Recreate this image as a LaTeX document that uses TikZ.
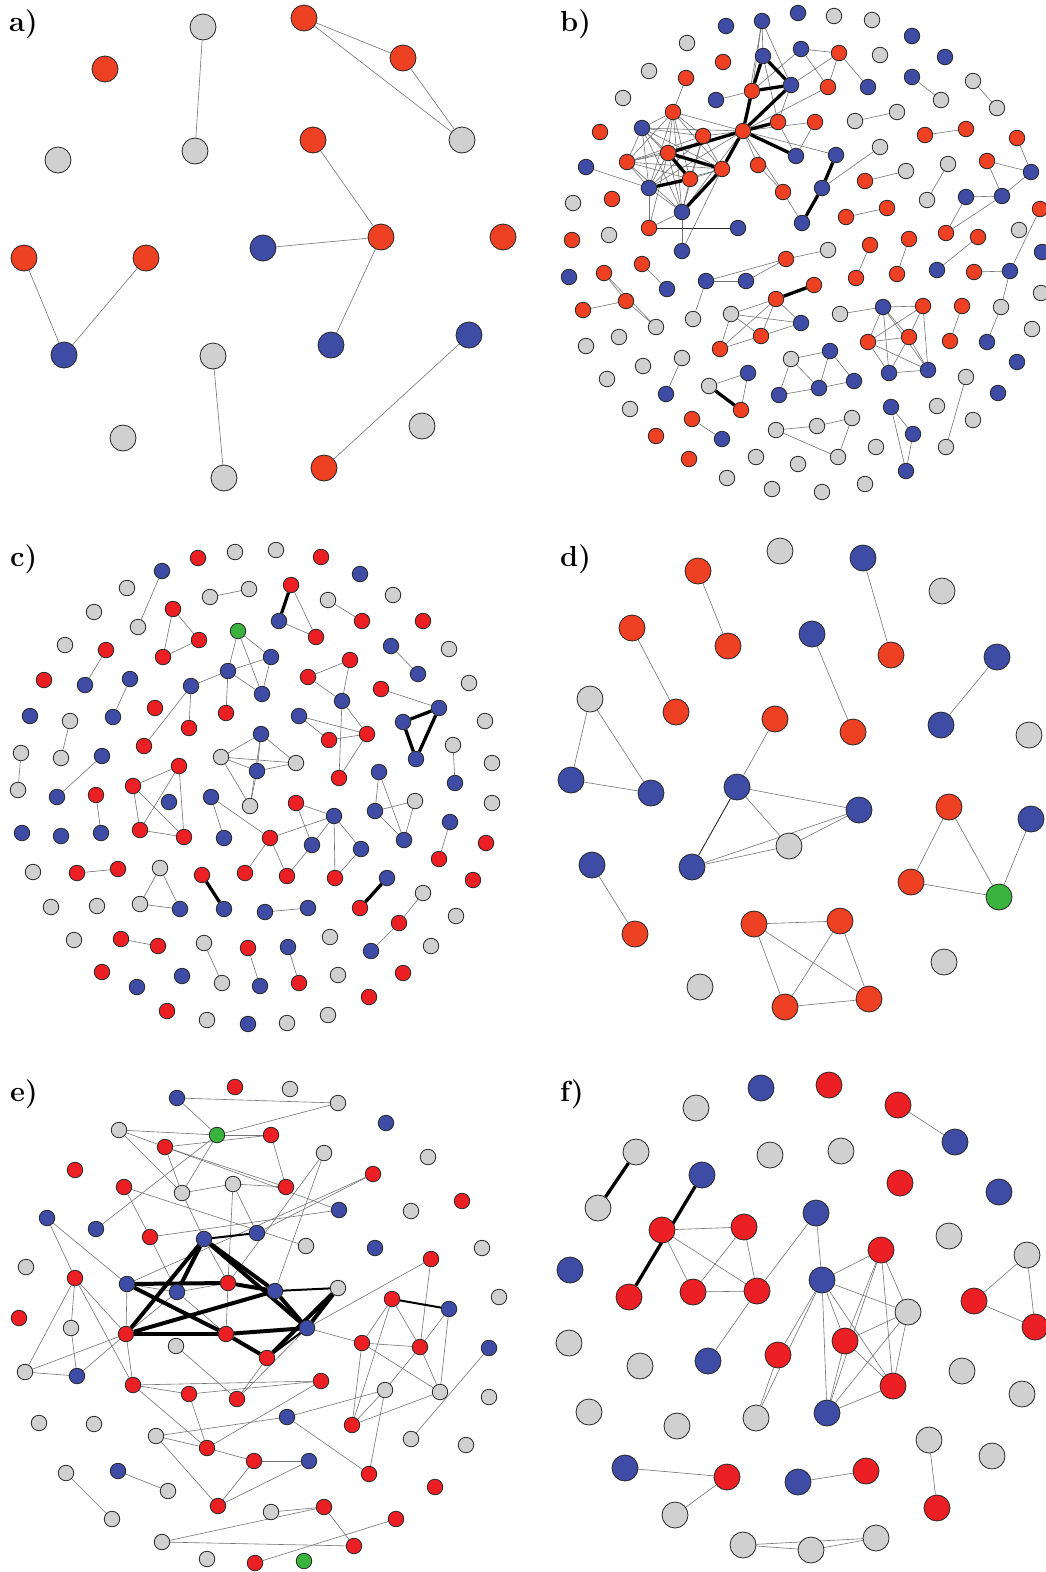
\documentclass[tikz,border=0pt]{standalone}
\usetikzlibrary{backgrounds}
\definecolor{cR}{RGB}{238,64,35}
\definecolor{cP}{RGB}{236,32,36}
\definecolor{cB}{RGB}{62,76,166}
\definecolor{cG}{RGB}{208,208,208}
\definecolor{cN}{RGB}{58,178,62}
\tikzset{
 nd/.style={circle, draw=black!85, line width=0.8pt, inner sep=0pt},
 bign/.style={nd, minimum size=26pt},
 smln/.style={nd, minimum size=15.5pt},
 ed/.style={draw=black!55, line width=0.6pt},
 dk/.style={draw=black!85, line width=0.9pt},
 medE/.style={draw=black, line width=2pt},
 thk/.style={draw=black, line width=3.3pt},
 thkE/.style={draw=black, line width=4pt},
 lbl/.style={anchor=base west, inner sep=0pt, font=\fontsize{29}{32}\selectfont\bfseries}
}
\begin{document}
\begin{tikzpicture}[x=1pt,y=-1pt]
\useasboundingbox (0,0) rectangle (1045,1572);
% labels
\node[lbl] (la) at (9,31) {a)};
\node[lbl] (lb) at (560,31) {b)};
\node[lbl] (lc) at (10,566) {c)};
\node[lbl] (ld) at (560,566) {d)};
\node[lbl] (le) at (10,1101) {e)};
\node[lbl] (lf) at (560,1101) {f)};
% ---------------- panel a
\foreach \n/\x/\y/\c in {a1/203/27/cG,a2/304/18/cR,a3/105/69/cR,a4/403/58/cR,a5/462/140/cG,a6/58/160/cG,a7/195/151/cG,a8/313/140/cR,a9/24/258/cR,a10/146/258/cR,a11/263/248/cB,a12/381/237/cR,a13/503/237/cR,a14/64/355/cB,a15/213/356/cG,a16/331/345/cB,a17/469/335/cB,a18/123/438/cG,a19/422/426/cG,a20/224/478/cG,a21/324/468/cR}
  \node[bign,fill=\c] (\n) at (\x,\y) {};
% ---------------- panel d
\foreach \n/\x/\y/\c in {d1/780/551/cG,d2/863/558/cB,d3/698/571/cR,d4/942/591/cG,d5/632/628/cR,d6/728/646/cR,d7/812/634/cB,d8/891/655/cR,d9/997/657/cB,d10/590/699/cG,d11/676/712/cR,d12/775/719/cR,d13/853/732/cR,d14/941/725/cB,d15/1029/735/cG,d16/571/780/cB,d17/651/793/cB,d18/737/787/cB,d19/859/810/cB,d20/949/807/cR,d21/1031/819/cB,d22/789/846/cG,d23/592/865/cB,d24/692/867/cB,d25/911/882/cR,d26/999/897/cN,d27/754/924/cR,d28/840/921/cR,d29/635/934/cR,d30/944/962/cG,d31/700/987/cG,d32/785/1007/cR,d33/869/999/cR}
  \node[bign,fill=\c] (\n) at (\x,\y) {};
% ---------------- panel f
\foreach \n/\x/\y/\c in {f1/761/1088/cB,f2/829/1085/cP,f3/696/1108/cG,f4/898/1105/cP,f5/955/1142/cB,f6/636/1152/cG,f7/770/1155/cG,f8/841/1151/cG,f9/702/1175/cB,f10/900/1183/cP,f11/999/1192/cB,f12/598/1208/cG,f13/816/1213/cB,f14/662/1230/cP,f15/744/1227/cP,f16/949/1236/cG,f17/881/1250/cP,f18/1027/1255/cG,f19/570/1270/cB,f20/822/1280/cB,f21/693/1292/cP,f22/757/1291/cP,f23/629/1297/cP,f24/974/1301/cP,f25/908/1312/cG,f26/1035/1327/cP,f27/845/1341/cP,f28/569/1343/cG,f29/640/1366/cG,f30/708/1361/cB,f31/778/1355/cP,f32/962/1371/cG,f33/893/1386/cP,f34/1022/1394/cG,f35/589/1412/cG,f36/677/1426/cG,f37/756/1418/cG,f38/827/1413/cB,f39/929/1440/cG,f40/992/1456/cG,f41/625/1468/cB,f42/727/1477/cP,f43/798/1482/cB,f44/866/1471/cP,f45/937/1508/cP,f46/675/1515/cG,f47/743/1545/cG,f48/811/1550/cG,f49/876/1538/cG}
  \node[bign,fill=\c] (\n) at (\x,\y) {};
% ---------------- panel b
\foreach \n/\x/\y/\c in {b1/726/26/cB,b2/762/21/cB,b3/798/13/cB,b4/687/43/cG,b5/723/62/cR,b6/763/56/cB,b7/801/49/cB,b8/649/71/cG,b9/686/78/cR,b10/623/98/cG,b11/752/91/cR,b12/791/85/cB,b13/716/100/cB,b14/673/112/cR,b15/642/128/cB,b16/600/132/cR,b17/778/122/cR,b18/703/136/cR,b19/743/131/cR,b20/668/153/cR,b21/627/162/cR,b22/586/167/cB,b23/758/165/cR,b24/796/156/cB,b25/722/169/cR,b26/690/179/cR,b27/649/188/cB,b28/783/192/cR,b29/573/203/cG,b30/612/199/cR,b31/682/212/cB,b32/649/228/cR,b33/738/228/cB,b34/572/240/cR,b35/609/235/cG,b36/682/251/cB,b37/802/223/cB,
b38/834/16/cG,b39/872/20/cG,b40/912/36/cB,b41/839/53/cR,b42/880/55/cG,b43/945/57/cB,b44/828/87/cR,b45/868/87/cB,b46/912/77/cB,b47/973/81/cG,b48/941/100/cG,b49/997/108/cG,b50/897/112/cG,b51/855/121/cG,b52/815/122/cR,b53/925/135/cR,b54/966/129/cR,b55/1017/138/cR,b56/836/155/cB,b57/880/147/cG,b58/987/161/cR,b59/948/164/cG,b60/906/171/cG,b61/1031/172/cB,b62/865/181/cR,b63/822/188/cB,b64/927/200/cG,b65/966/197/cB,b66/1002/196/cB,b67/1040/209/cR,b68/846/217/cR,b69/887/208/cR,b70/946/233/cR,b71/978/237/cR,b72/1019/230/cG,b73/828/250/cG,b74/870/245/cR,b75/909/239/cR,b76/1042/252/cB,
b77/569/277/cB,b78/604/273/cR,b79/642/264/cR,b80/667/289/cB,b81/706/281/cB,b82/746/281/cB,b83/786/259/cR,b84/583/310/cR,b85/626/301/cR,b86/656/327/cG,b87/693/319/cG,b88/776/299/cR,b89/731/314/cG,b90/801/323/cB,b91/761/336/cR,b92/720/349/cR,b93/586/346/cG,b94/619/337/cG,b95/643/366/cG,b96/682/358/cG,b97/607/379/cG,b98/748/373/cB,b99/709/386/cG,b100/666/394/cB,b101/741/410/cR,b102/779/395/cB,b103/791/359/cG,b104/630/409/cG,b105/692/419/cR,b106/722/439/cB,b107/656/436/cR,b108/776/430/cG,b109/756/457/cG,b110/689/459/cR,b111/727/478/cG,b112/772/489/cG,b113/798/464/cG,
b114/856/278/cR,b115/897/274/cR,b116/937/270/cB,b117/974/272/cR,b118/1010/271/cB,b119/814/285/cR,b120/840/314/cG,b121/883/307/cB,b122/923/306/cR,b123/962/306/cR,b124/1001/307/cG,b125/1041/293/cG,b126/868/342/cR,b127/909/337/cR,b128/950/341/cR,b129/987/342/cB,b130/1032/329/cG,b131/830/351/cB,b132/889/373/cB,b133/928/370/cB,b134/1017/362/cB,b135/819/388/cB,b136/854/381/cB,b137/966/377/cG,b138/998/393/cB,b139/891/407/cB,b140/937/406/cG,b141/973/420/cG,b142/817/426/cG,b143/852/418/cG,b144/913/434/cB,b145/876/447/cG,b146/946/447/cG,b147/838/457/cG,b148/906/471/cB,b149/865/484/cG,b150/822/492/cG}
  \node[smln,fill=\c] (\n) at (\x,\y) {};
% ---------------- panel c
\foreach \n/\x/\y/\c in {c1/198/558/cP,c2/235/552/cG,c3/162/571/cB,c4/127/588/cG,c5/210/597/cG,c6/249/589/cG,c7/94/612/cG,c8/173/609/cP,c9/138/627/cG,c10/238/631/cN,c11/65/645/cG,c12/106/650/cP,c13/199/640/cP,c14/163/657/cP,c15/44/680/cP,c16/85/685/cB,c17/130/679/cB,c18/228/671/cB,c19/191/686/cB,c20/262/694/cB,c21/155/708/cP,c22/226/713/cP,c23/30/716/cB,c24/70/721/cG,c25/113/717/cB,c26/189/728/cP,c27/261/734/cB,c28/144/746/cP,c29/21/753/cG,c30/61/758/cG,c31/102/756/cB,c32/221/757/cG,c33/257/771/cB,c34/179/766/cP,c35/133/786/cP,c36/18/790/cG,
c37/276/550/cG,c38/321/557/cP,c39/360/574/cB,c40/291/585/cP,c41/328/600/cG,c42/393/595/cG,c43/279/621/cB,c44/362/621/cP,c45/423/621/cP,c46/316/637/cP,c47/391/646/cB,c48/449/649/cG,c49/271/657/cB,c50/350/660/cP,c51/308/677/cP,c52/418/674/cB,c53/469/683/cG,c54/381/689/cP,c55/342/701/cB,c56/439/708/cB,c57/403/722/cB,c58/485/721/cG,c59/299/716/cB,c60/329/740/cP,c61/367/734/cP,c62/453/745/cG,c63/296/763/cG,c64/492/763/cG,c65/416/759/cB,c66/339/778/cP,c67/379/772/cB,c68/455/783/cB,
c69/57/797/cB,c70/96/795/cP,c71/169/802/cB,c72/211/797/cB,c73/250/806/cG,c74/22/833/cB,c75/61/836/cB,c76/101/833/cB,c77/140/830/cP,c78/184/837/cP,c79/224/838/cB,c80/33/872/cG,c81/77/873/cP,c82/118/869/cP,c83/160/868/cG,c84/202/875/cP,c85/245/873/cP,c86/51/907/cG,c87/97/906/cG,c88/140/904/cG,c89/180/909/cB,c90/224/909/cB,c91/74/940/cG,c92/121/939/cP,c93/158/946/cP,c94/204/943/cG,c95/248/948/cP,c96/102/972/cP,c97/182/976/cB,c98/222/983/cG,c99/137/987/cB,c100/260/986/cB,c101/167/1011/cP,c102/207/1020/cG,c103/248/1024/cB,
c104/492/803/cG,c105/296/803/cP,c106/334/816/cB,c107/375/811/cB,c108/415/801/cG,c109/450/822/cB,c110/270/838/cP,c111/312/845/cB,c112/361/849/cB,c113/404/840/cB,c114/486/843/cP,c115/439/859/cP,c116/287/876/cP,c117/335/878/cP,c118/387/878/cB,c119/473/880/cP,c120/423/893/cG,c121/360/908/cP,c122/265/912/cB,c123/308/908/cB,c124/399/923/cP,c125/456/916/cG,c126/330/937/cG,c127/371/951/cB,c128/431/946/cG,c129/288/947/cB,c130/338/975/cG,c131/403/973/cP,c132/299/983/cP,c133/369/997/cP,c134/328/1015/cG,c135/287/1023/cG}
  \node[smln,fill=\c] (\n) at (\x,\y) {};
% ---------------- panel e
\foreach \n/\x/\y/\c in {e1/235/1087/cP,e2/177/1098/cB,e3/119/1130/cG,e4/217/1135/cN,e5/165/1147/cP,e6/75/1170/cP,e7/124/1187/cP,e8/182/1193/cG,e9/233/1184/cG,e10/47/1218/cB,e11/96/1229/cB,e12/150/1237/cP,e13/204/1239/cB,e14/257/1233/cB,e15/26/1267/cG,e16/75/1278/cP,e17/127/1284/cB,e18/177/1292/cB,e19/228/1283/cP,e20/19/1318/cP,
e21/290/1089/cG,e22/338/1103/cG,e23/386/1123/cB,e24/271/1135/cP,e25/324/1153/cG,e26/428/1157/cG,e27/373/1174/cP,e28/286/1187/cP,e29/462/1201/cP,e30/339/1210/cB,e31/411/1211/cG,e32/306/1246/cG,e33/375/1248/cB,e34/482/1248/cG,e35/431/1259/cP,e36/275/1291/cB,e37/338/1288/cG,e38/392/1299/cP,e39/449/1309/cB,e40/499/1297/cG,
e41/71/1328/cG,e42/126/1334/cP,e43/226/1334/cP,e44/176/1346/cG,e45/25/1372/cG,e46/77/1376/cB,e47/133/1385/cP,e48/189/1394/cP,e49/237/1399/cP,e50/39/1423/cG,e51/94/1424/cG,e52/156/1436/cG,e53/207/1448/cP,e54/254/1461/cP,e55/66/1473/cG,e56/118/1471/cB,e57/168/1491/cG,e58/218/1506/cP,e59/112/1519/cG,e60/162/1542/cG,e61/207/1559/cG,e62/255/1563/cP,
e63/307/1328/cB,e64/267/1358/cP,e65/362/1343/cP,e66/420/1347/cP,e67/489/1348/cB,e68/321/1381/cP,e69/385/1390/cG,e70/440/1392/cG,e71/489/1397/cG,e72/287/1417/cB,e73/352/1425/cP,e74/411/1439/cG,e75/466/1445/cG,e76/309/1461/cB,e77/369/1474/cP,e78/435/1487/cP,e79/271/1512/cG,e80/324/1507/cP,e81/396/1519/cP,e82/354/1546/cP,e83/304/1561/cN}
  \node[smln,fill=\c] (\n) at (\x,\y) {};
% ================= edges
\begin{scope}[on background layer]
% panel a
\foreach \p/\q in {a1/a7,a2/a4,a2/a5,a4/a5,a8/a12,a11/a12,a12/a16,a9/a14,a10/a14,a15/a20,a17/a21}
  \draw[ed] (\p) -- (\q);
% panel d
\foreach \p/\q in {d3/d6,d2/d8,d5/d11,d7/d13,d9/d14,d12/d18,d10/d16,d10/d17,d16/d17,d18/d19,d18/d22,d24/d19,d24/d22,d22/d19,d23/d29,d20/d25,d20/d26,d25/d26,d21/d26,d27/d28,d27/d32,d27/d33,d28/d32,d28/d33,d32/d33}
  \draw[ed] (\p) -- (\q);
\draw[dk] (d18) -- (d24);
% panel f
\foreach \p/\q in {f4/f5,f14/f15,f14/f21,f14/f22,f15/f21,f15/f22,f21/f22,f13/f20,f13/f22,f22/f30,f20/f17,f20/f25,f20/f27,f20/f33,f20/f38,f20/f31,f20/f37,f31/f37,f17/f27,f17/f33,f17/f25,f17/f38,f25/f27,f25/f33,f25/f38,f27/f33,f27/f38,f33/f38,f24/f18,f24/f26,f18/f26,f39/f45,f41/f42,f42/f46,f43/f44,f47/f48,f48/f49,f47/f49}
  \draw[ed] (\p) -- (\q);
\foreach \p/\q in {f6/f12,f9/f23}
  \draw[thk] (\p) -- (\q);
% panel b
\foreach \p/\q in {b14/b15,b14/b18,b14/b20,b14/b21,b14/b26,b14/b27,b14/b31,b14/b25,b15/b18,b15/b20,b15/b21,b15/b26,b15/b27,b15/b31,b15/b25,b18/b21,b18/b26,b18/b27,b18/b31,b18/b25,b20/b21,b20/b27,b20/b31,b21/b26,b21/b27,b21/b31,b21/b25,b26/b31,b26/b25,b27/b31,b27/b25,b19/b14,b19/b15,b19/b18,b19/b21,b19/b27,b19/b31,b19/b23,b19/b28,b19/b52,b19/b44,b19/b56,b19/b2,b22/b27,b32/b27,b32/b20,b32/b31,b36/b31,b36/b25,b9/b14,b13/b11,b2/b6,b2/b11,b2/b12,b6/b17,b12/b17,b17/b24,b23/b28,b28/b37,b7/b41,b7/b44,b7/b11,b41/b12,b41/b44,b41/b45,b52/b24,b57/b63,b46/b48,b47/b49,b51/b50,b53/b54,b55/b61,b58/b61,b58/b66,b65/b66,b61/b66,b70/b65,b70/b66,b59/b64,b62/b60,b68/b69,b67/b118,b118/b124,b124/b129,b117/b118,b123/b128,b74/b114,b75/b115,b71/b116,b73/b83,b79/b80,b78/b85,b78/b86,b85/b86,b84/b85,b81/b82,b81/b83,b82/b83,b81/b87,b88/b89,b88/b91,b88/b90,b88/b92,b89/b90,b89/b92,b89/b91,b92/b91,b91/b90,b96/b100,b99/b98,b98/b101,b105/b106,b103/b102,b103/b131,b103/b135,b102/b135,b131/b135,b131/b136,b135/b136,b108/b142,b108/b147,b142/b143,b143/b147,b120/b121,b121/b122,b121/b126,b121/b127,b121/b132,b121/b133,b122/b126,b122/b127,b122/b133,b126/b127,b126/b132,b126/b133,b127/b132,b127/b133,b132/b133,b139/b144,b139/b148,b144/b148,b137/b146}
  \draw[ed] (\p) -- (\q);
\draw[dk] (b32) -- (b33);
\foreach \p/\q in {b19/b11,b19/b12,b11/b6,b6/b12,b11/b12,b19/b17,b19/b24,b20/b19,b20/b25,b20/b26,b26/b27,b19/b25,b25/b31,b56/b63,b63/b37,b88/b119,b99/b101}
  \draw[thk] (\p) -- (\q);
% panel c
\foreach \p/\q in {c3/c9,c5/c6,c8/c13,c8/c14,c13/c14,c12/c16,c17/c25,c10/c18,c10/c20,c10/c49,c18/c19,c18/c22,c18/c20,c18/c49,c49/c20,c19/c26,c19/c28,c24/c30,c29/c36,c31/c69,c32/c27,c32/c33,c32/c63,c27/c33,c27/c63,c33/c63,c73/c33,c73/c27,c32/c73,c34/c35,c34/c77,c34/c78,c35/c77,c35/c78,c77/c78,c70/c76,c72/c79,c72/c110,c85/c110,c81/c82,c83/c88,c83/c89,c88/c89,c92/c93,c94/c98,c95/c100,c40/c46,c43/c46,c41/c44,c47/c52,c51/c50,c51/c55,c50/c55,c54/c56,c55/c61,c55/c66,c59/c60,c59/c61,c60/c61,c61/c66,c62/c68,c67/c107,c67/c113,c107/c108,c107/c113,c108/c113,c105/c106,c105/c111,c106/c110,c106/c111,c106/c112,c106/c117,c112/c117,c111/c116,c110/c116,c109/c115,c120/c124,c124/c127,c122/c123,c129/c132}
  \draw[ed] (\p) -- (\q);
\foreach \p/\q in {c40/c43,c56/c57,c57/c65,c56/c65,c84/c90,c121/c118}
  \draw[thk] (\p) -- (\q);
% panel e
\foreach \p/\q in {e2/e4,e2/e22,e3/e4,e3/e5,e3/e8,e4/e24,e4/e22,e4/e11,e4/e8,e5/e8,e5/e28,e5/e30,e5/e24,e7/e12,e7/e32,e8/e9,e8/e13,e9/e28,e9/e19,e9/e14,e24/e28,e12/e18,e12/e30,e10/e16,e10/e17,e16/e45,e16/e41,e16/e47,e16/e42,e41/e46,e45/e46,e45/e42,e46/e42,e42/e47,e47/e48,e47/e53,e48/e53,e47/e68,e48/e68,e68/e53,e52/e53,e52/e58,e52/e72,e53/e54,e58/e54,e58/e76,e54/e76,e44/e49,e64/e49,e63/e49,e56/e57,e55/e59,e60/e80,e60/e82,e79/e80,e80/e82,e81/e62,e25/e36,e25/e19,e27/e17,e27/e14,e13/e19,e17/e18,e18/e19,e18/e42,e19/e43,e17/e42,e18/e43,e63/e65,e65/e66,e65/e70,e65/e73,e65/e38,e66/e35,e66/e39,e66/e69,e66/e70,e66/e38,e39/e70,e35/e63,e73/e38,e73/e69,e73/e70,e69/e72,e69/e77,e72/e77,e67/e74}
  \draw[ed] (\p) -- (\q);
\foreach \p/\q in {e13/e14,e36/e37,e38/e39,e64/e63}
  \draw[medE] (\p) -- (\q);
\foreach \p/\q in {e13/e42,e13/e18,e13/e36,e13/e63,e17/e19,e19/e36,e17/e43,e42/e43,e43/e63,e42/e36,e43/e64,e36/e63,e64/e37,e37/e63}
  \draw[thkE] (\p) -- (\q);
\end{scope}
\end{tikzpicture}
\end{document}
